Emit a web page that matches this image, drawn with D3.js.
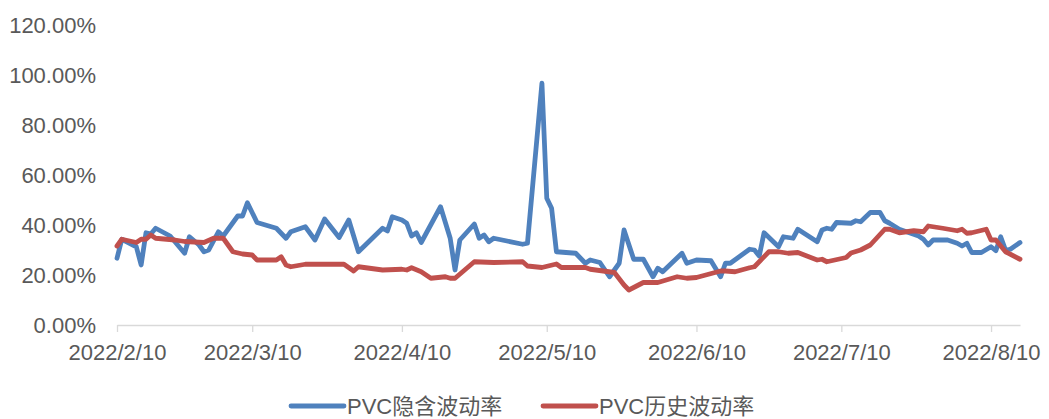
<!DOCTYPE html>
<html>
<head>
<meta charset="utf-8">
<script src="https://cdn.jsdelivr.net/npm/d3@7"></script>
<style>
  html, body { margin: 0; padding: 0; background: #fff; }
  svg text { font-family: "Liberation Sans", "Noto Sans CJK SC", sans-serif; fill: #595959; }
</style>
</head>
<body>
<div id="chart"></div>
<script>
// implied vol (blue)
const ivDates = ["2022-02-10","2022-02-11","2022-02-14","2022-02-15","2022-02-16","2022-02-17","2022-02-18","2022-02-21","2022-02-24","2022-02-25",
  "2022-02-27","2022-02-28","2022-03-01","2022-03-03","2022-03-04","2022-03-07","2022-03-08","2022-03-09","2022-03-11","2022-03-15",
  "2022-03-17","2022-03-18","2022-03-21","2022-03-23","2022-03-25","2022-03-28","2022-03-30","2022-04-01","2022-04-06","2022-04-07",
  "2022-04-08","2022-04-10","2022-04-11","2022-04-12","2022-04-13","2022-04-14","2022-04-18","2022-04-20","2022-04-21","2022-04-22",
  "2022-04-25","2022-04-26","2022-04-27","2022-04-28","2022-04-29","2022-05-05","2022-05-06","2022-05-09","2022-05-10","2022-05-11",
  "2022-05-12","2022-05-16","2022-05-18","2022-05-19","2022-05-21","2022-05-23","2022-05-25","2022-05-26","2022-05-28","2022-05-30",
  "2022-06-01","2022-06-02","2022-06-03","2022-06-07","2022-06-08","2022-06-10","2022-06-13","2022-06-15","2022-06-16","2022-06-17",
  "2022-06-21","2022-06-22","2022-06-23","2022-06-24","2022-06-27","2022-06-28","2022-06-30","2022-07-01","2022-07-05","2022-07-06",
  "2022-07-07","2022-07-08","2022-07-09","2022-07-12","2022-07-13","2022-07-14","2022-07-16","2022-07-18","2022-07-19","2022-07-20",
  "2022-07-22","2022-07-26","2022-07-27","2022-07-28","2022-07-29","2022-08-01","2022-08-03","2022-08-04","2022-08-05","2022-08-06",
  "2022-08-08","2022-08-10","2022-08-11","2022-08-12","2022-08-13","2022-08-14","2022-08-16"]
const ivValues = [26.7,34.3,31.3,24.0,36.9,36.4,38.7,35.6,28.7,35.3,
  32.0,29.3,30.0,37.3,35.6,43.6,43.6,48.9,41.0,38.7,
  34.7,37.3,39.3,34.0,42.4,35.0,42.0,29.3,38.7,37.6,
  43.3,42.0,40.7,35.6,36.9,33.0,47.3,34.7,22.0,34.0,
  40.4,34.7,36.0,33.3,34.7,32.3,32.7,96.7,50.7,46.7,
  29.3,28.7,24.7,26.0,25.0,19.3,24.7,38.0,26.3,26.3,
  19.3,22.7,21.3,28.7,24.7,26.0,25.7,19.3,24.7,24.7,
  30.3,30.0,27.6,36.9,31.3,35.3,34.7,38.3,33.3,38.0,
  38.7,38.3,41.0,40.7,41.7,41.3,45.0,45.0,41.7,40.7,
  38.3,35.6,34.3,32.0,34.0,34.0,32.7,31.6,32.7,29.0,
  29.0,31.3,29.7,35.3,30.0,30.3,33.0]

// historical vol (red)
const hvDates = ["2022-02-10","2022-02-11","2022-02-14","2022-02-15","2022-02-16","2022-02-17","2022-02-18","2022-02-22","2022-02-24","2022-02-28",
  "2022-03-02","2022-03-04","2022-03-06","2022-03-08","2022-03-10","2022-03-11","2022-03-15","2022-03-16","2022-03-17","2022-03-18",
  "2022-03-21","2022-03-29","2022-03-31","2022-04-01","2022-04-06","2022-04-10","2022-04-11","2022-04-12","2022-04-14","2022-04-16",
  "2022-04-19","2022-04-20","2022-04-21","2022-04-23","2022-04-25","2022-04-29","2022-05-05","2022-05-06","2022-05-09","2022-05-12",
  "2022-05-13","2022-05-18","2022-05-19","2022-05-24","2022-05-26","2022-05-27","2022-05-30","2022-06-02","2022-06-06","2022-06-08",
  "2022-06-10","2022-06-15","2022-06-16","2022-06-18","2022-06-21","2022-06-22","2022-06-25","2022-06-27","2022-06-29","2022-07-01",
  "2022-07-05","2022-07-06","2022-07-07","2022-07-11","2022-07-12","2022-07-14","2022-07-16","2022-07-19","2022-07-20","2022-07-22",
  "2022-07-25","2022-07-27","2022-07-28","2022-07-31","2022-08-03","2022-08-04","2022-08-05","2022-08-06","2022-08-09","2022-08-10",
  "2022-08-11","2022-08-13","2022-08-16"]
const hvValues = [31.6,34.3,33.0,34.3,34.3,36.0,34.7,34.0,33.4,33.0,
  34.7,34.7,29.3,28.4,28.0,26.0,26.0,27.3,24.0,23.3,
  24.3,24.3,21.6,23.3,22.0,22.3,22.0,22.9,21.3,18.7,
  19.3,18.7,18.7,22.0,25.3,25.0,25.3,23.6,23.0,24.4,
  23.0,23.0,22.3,21.0,16.0,14.0,17.0,17.0,19.3,18.7,
  19.0,21.6,21.6,21.3,22.9,23.3,29.3,29.3,28.7,29.0,
  26.0,26.3,25.3,27.0,28.8,30.0,32.0,38.3,38.3,36.9,
  37.7,37.3,39.6,38.7,37.7,38.3,36.7,36.9,38.3,34.0,
  34.0,29.3,26.3]

const seriesNames = ["PVC隐含波动率", "PVC历史波动率"]
const seriesColors = ["#4f81bd", "#c0504d"]
const yTicks = [0, 20, 40, 60, 80, 100, 120]
const xTickDates = ["2022-02-10","2022-03-10","2022-04-10","2022-05-10","2022-06-10","2022-07-10","2022-08-10"]

const W = 1049, H = 419
const margin = { top: 25, right: 29, bottom: 94, left: 117 }
const width = W - margin.left - margin.right,
  height = H - margin.top - margin.bottom

const parse = d3.timeParse("%Y-%m-%d")
const fmt = d3.timeFormat("%Y/%-m/%-d")

const svg = d3.select("#chart")
  .append("svg")
  .attr("width", W)
  .attr("height", H)

const g = svg.append("g")
  .attr("transform", "translate(" + margin.left + "," + margin.top + ")")

const x = d3.scaleTime()
  .domain([parse("2022-02-10"), parse("2022-08-16")])
  .range([0, width])

const y = d3.scaleLinear()
  .domain([0, 120])
  .range([height, 0])

// y labels, no grid
const yAxis = g.append("g")
  .call(d3.axisLeft(y).tickValues(yTicks).tickSize(0).tickPadding(21)
    .tickFormat(d => d.toFixed(2) + "%"))
yAxis.select(".domain").remove()
yAxis.selectAll("text").style("font-size", "22px").attr("fill", "#595959")

// x axis
const xAxis = g.append("g")
  .attr("transform", "translate(0," + height + ")")
  .call(d3.axisBottom(x).tickValues(xTickDates.map(parse)).tickSizeInner(7).tickSizeOuter(0).tickPadding(12)
    .tickFormat(fmt))
xAxis.select(".domain").attr("stroke", "#d9d9d9").attr("stroke-width", 1.3)
xAxis.selectAll(".tick line").attr("stroke", "#d9d9d9").attr("stroke-width", 1.3)
xAxis.selectAll("text").style("font-size", "22px").attr("fill", "#595959")

const line = d3.line()
  .x(d => x(d[0]))
  .y(d => y(d[1]))

const series = [
  ivDates.map((d, i) => [parse(d), ivValues[i]]),
  hvDates.map((d, i) => [parse(d), hvValues[i]])
]

series.forEach((s, i) => {
  g.append("path")
    .datum(s)
    .attr("fill", "none")
    .attr("stroke", seriesColors[i])
    .attr("stroke-width", 4.8)
    .attr("stroke-linejoin", "round")
    .attr("stroke-linecap", "round")
    .attr("d", line)
})

// legend
const legend = svg.append("g").attr("transform", "translate(0,406)")
const legendX = [291, 543]
seriesNames.forEach((name, i) => {
  legend.append("line")
    .attr("x1", legendX[i]).attr("x2", legendX[i] + 53)
    .attr("y1", 0).attr("y2", 0)
    .attr("stroke", seriesColors[i])
    .attr("stroke-width", 4.8)
    .attr("stroke-linecap", "round")
  legend.append("text")
    .attr("x", legendX[i] + 56)
    .attr("y", 0)
    .attr("dy", "0.36em")
    .style("font-size", "22px")
    .text(name)
})
</script>
</body>
</html>
